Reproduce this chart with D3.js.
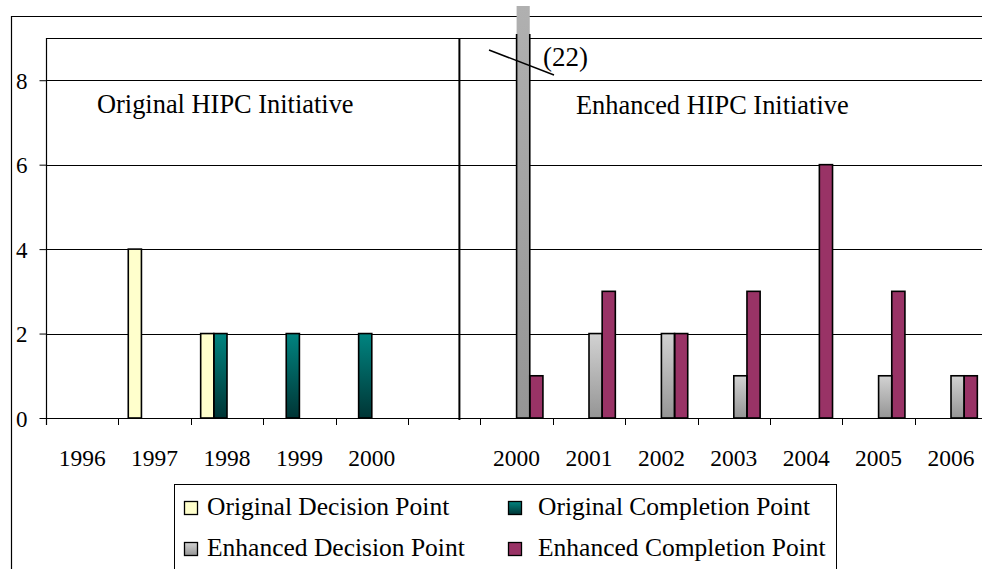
<!DOCTYPE html>
<html>
<head>
<meta charset="utf-8">
<script src="https://cdnjs.cloudflare.com/ajax/libs/d3/7.8.5/d3.min.js"></script>
<style>
  body { margin: 0; background: #fff; }
</style>
</head>
<body>
<div id="main"></div>
<script>

// categories (the blank one is the gap between the two initiatives)
var categories = ["1996", "1997", "1998", "1999", "2000", "", "2000", "2001", "2002", "2003", "2004", "2005", "2006"];

var seriesNames = ["Original Decision Point", "Original Completion Point", "Enhanced Decision Point", "Enhanced Completion Point"];

var originalDecision   = [0, 4, 2, 0, 0, 0, 0, 0, 0, 0, 0, 0, 0];
var originalCompletion = [0, 0, 2, 2, 2, 0, 0, 0, 0, 0, 0, 0, 0];
var enhancedDecision   = [0, 0, 0, 0, 0, 0, 22, 2, 2, 1, 0, 1, 1];
var enhancedCompletion = [0, 0, 0, 0, 0, 0, 1, 3, 2, 3, 6, 3, 1];

var yTicks = [0, 2, 4, 6, 8];

var dimensions = {
    width: 982,
    height: 569,
    margin: {
        top: 38,
        left: 46
    }
}

var serif = "'Liberation Serif'";

var allSeries = [originalDecision, originalCompletion, enhancedDecision, enhancedCompletion];

var bars = [];
allSeries.forEach(function(values, s) {
    values.forEach(function(v, i) {
        if (v > 0) bars.push({ series: seriesNames[s], cat: i, value: v });
    });
});

var SVG = d3.select("#main")
  .append("svg")
    .attr("width", dimensions.width)
    .attr("height", dimensions.height);

var defs = SVG.append("defs");

function grad(id, top, bottom) {
    var g = defs.append("linearGradient")
        .attr("id", id)
        .attr("x1", 0).attr("y1", 0).attr("x2", 0).attr("y2", 1);
    g.append("stop").attr("offset", "0%").attr("stop-color", top);
    g.append("stop").attr("offset", "100%").attr("stop-color", bottom);
}
grad("gTeal", "#008480", "#003535");
grad("gGray", "#d2d2d2", "#959595");

var fills = {
    "Original Decision Point": "#ffffcc",
    "Original Completion Point": "url(#gTeal)",
    "Enhanced Decision Point": "url(#gGray)",
    "Enhanced Completion Point": "#993366"
}

// clip for bar fill (the tall bar runs out of the chart) and for bar outlines
defs.append("clipPath").attr("id", "clipFill")
  .append("rect").attr("x", 0).attr("y", 6).attr("width", dimensions.width).attr("height", dimensions.height);
defs.append("clipPath").attr("id", "clipLine")
  .append("rect").attr("x", 0).attr("y", 34).attr("width", dimensions.width).attr("height", dimensions.height);

var x = d3.scaleBand()
  .domain(d3.range(categories.length))
  .range([dimensions.margin.left, dimensions.margin.left + 13 * 72.4])
  .paddingInner(0);

var x1 = d3.scaleBand()
  .domain(seriesNames)
  .range([0, x.bandwidth()])
  .paddingInner(0)
  .paddingOuter(0.75);

var y = d3.scaleLinear()
  .domain([0, 9])
  .range([418, dimensions.margin.top]);

// outer frame (cropped at right and bottom)
SVG.append("line").attr("x1", 11).attr("x2", dimensions.width).attr("y1", 16.5).attr("y2", 16.5)
  .attr("stroke", "#000").attr("stroke-width", 1.2);
SVG.append("line").attr("x1", 11.5).attr("x2", 11.5).attr("y1", 16).attr("y2", dimensions.height)
  .attr("stroke", "#000").attr("stroke-width", 1.2);

// gridlines + plot top
SVG.append("g")
  .selectAll("line")
  .data(yTicks.slice(1).concat([9]))
  .enter()
  .append("line")
    .attr("x1", dimensions.margin.left)
    .attr("x2", dimensions.width)
    .attr("y1", function(d) { return Math.round(y(d)) + 0.5; })
    .attr("y2", function(d) { return Math.round(y(d)) + 0.5; })
    .attr("stroke", "#000")
    .attr("stroke-width", 1);

// y axis
var yAxis = d3.axisLeft(y).tickValues(yTicks).tickSize(7).tickPadding(12);
var yG = SVG.append("g")
  .attr("transform", "translate(" + (dimensions.margin.left + 0.5) + ",0)")
  .call(yAxis);
yG.select(".domain").remove();
yG.selectAll("line").attr("stroke", "#000");
yG.selectAll("text")
  .style("font-family", serif)
  .style("font-size", "23px")
  .attr("fill", "#000")
  .attr("dy", "0.35em");
SVG.append("line")
  .attr("x1", dimensions.margin.left + 0.5).attr("x2", dimensions.margin.left + 0.5)
  .attr("y1", y(9)).attr("y2", y(0) + 7)
  .attr("stroke", "#000").attr("stroke-width", 1.2);

// x axis line, boundary ticks, labels
SVG.append("line")
  .attr("x1", dimensions.margin.left).attr("x2", dimensions.width)
  .attr("y1", y(0) + 0.5).attr("y2", y(0) + 0.5)
  .attr("stroke", "#000").attr("stroke-width", 1.2);

SVG.append("g")
  .selectAll("line")
  .data(d3.range(categories.length + 1))
  .enter()
  .append("line")
    .attr("x1", function(d) { return Math.round(dimensions.margin.left + d * x.step()) + 0.5; })
    .attr("x2", function(d) { return Math.round(dimensions.margin.left + d * x.step()) + 0.5; })
    .attr("y1", y(0))
    .attr("y2", y(0) + 7)
    .attr("stroke", "#000");

SVG.append("g")
  .selectAll("text")
  .data(categories)
  .enter()
  .append("text")
    .attr("x", function(d, i) { return x(i) + x.bandwidth() / 2; })
    .attr("y", 466)
    .attr("text-anchor", "middle")
    .style("font-family", serif)
    .style("font-size", "23.5px")
    .text(function(d) { return d; });

// divider between the two initiatives
SVG.append("line")
  .attr("x1", x(5) + x.bandwidth() * 0.71).attr("x2", x(5) + x.bandwidth() * 0.71)
  .attr("y1", y(9)).attr("y2", y(0) + 2)
  .attr("stroke", "#000").attr("stroke-width", 2);

// bars: fill then outline
SVG.append("g")
  .attr("clip-path", "url(#clipFill)")
  .selectAll("rect")
  .data(bars)
  .enter()
  .append("rect")
    .attr("x", function(d) { return x(d.cat) + x1(d.series); })
    .attr("y", function(d) { return y(d.value); })
    .attr("width", x1.bandwidth())
    .attr("height", function(d) { return y(0) - y(d.value); })
    .attr("fill", function(d) { return fills[d.series]; });

SVG.append("g")
  .attr("clip-path", "url(#clipLine)")
  .selectAll("rect")
  .data(bars)
  .enter()
  .append("rect")
    .attr("x", function(d) { return x(d.cat) + x1(d.series); })
    .attr("y", function(d) { return y(d.value); })
    .attr("width", x1.bandwidth())
    .attr("height", function(d) { return y(0) - y(d.value); })
    .attr("fill", "none")
    .attr("stroke", "#000")
    .attr("stroke-width", 1.6);

// break mark for the off-scale bar
SVG.append("line")
  .attr("x1", 489).attr("y1", 50).attr("x2", 554).attr("y2", 75)
  .attr("stroke", "#000").attr("stroke-width", 1.5);
SVG.append("text")
  .attr("x", 543).attr("y", 66)
  .style("font-family", serif)
  .style("font-size", "27px")
  .text("(22)");

// initiative labels
SVG.append("text").attr("x", 97).attr("y", 113)
  .style("font-family", serif).style("font-size", "26.4px")
  .text("Original HIPC Initiative");
SVG.append("text").attr("x", 576).attr("y", 114)
  .style("font-family", serif).style("font-size", "26.4px")
  .text("Enhanced HIPC Initiative");

// legend (box runs past the bottom edge)
SVG.append("rect")
  .attr("x", 174.5).attr("y", 484.5)
  .attr("width", 662).attr("height", 120)
  .attr("fill", "#fff")
  .attr("stroke", "#000");

var legendPos = [[184, 501], [508, 501], [184, 542], [508, 542]];

var legend = SVG.append("g")
  .selectAll("g")
  .data(seriesNames)
  .enter()
  .append("g")
    .attr("transform", function(d, i) { return "translate(" + legendPos[i][0] + "," + legendPos[i][1] + ")"; });

legend.append("rect")
  .attr("x", 0.5).attr("y", 0.5)
  .attr("width", 13).attr("height", 13)
  .attr("fill", function(d) { return fills[d]; })
  .attr("stroke", "#000")
  .attr("stroke-width", 1.3);

legend.append("text")
  .attr("x", function(d, i) { return i % 2 == 0 ? 23 : 30; })
  .attr("y", 14)
  .style("font-family", serif)
  .style("font-size", "25.5px")
  .text(function(d) { return d; });

</script>
</body>
</html>
